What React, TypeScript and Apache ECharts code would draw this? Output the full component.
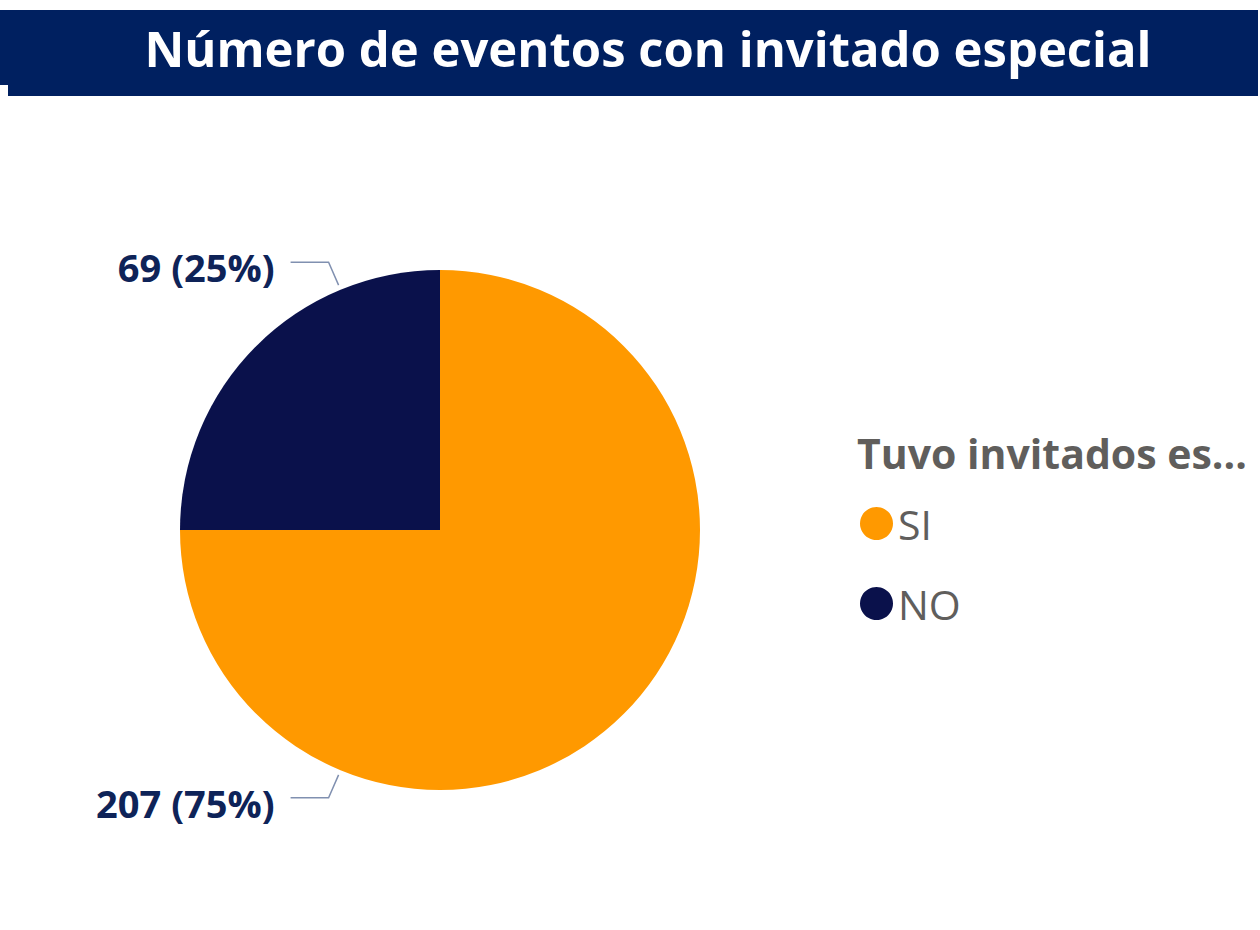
import React, { useEffect, useRef } from "react";
import * as echarts from "echarts";

const categories: string[] = ["SI", "NO"];
const values: number[] = [207, 69];
const sliceColors: string[] = ["#FF9900", "#0A114B"];

const chartTitle = "Número de eventos con invitado especial";
const legendTitle = "Tuvo invitados es...";

const CX = 440;
const CY = 530;
const R = 260;

export default function App() {
  const ref = useRef<HTMLDivElement | null>(null);
  useEffect(() => {
    if (!ref.current) return;
    const chart = echarts.init(ref.current, undefined, { renderer: "svg" });
    const font = "'Segoe UI', 'Open Sans', 'Noto Sans', sans-serif";
    chart.setOption({
      animation: false,
      backgroundColor: "#FFFFFF",
      graphic: [
        { type: "rect", shape: { x: 0, y: 10, width: 9, height: 75 }, style: { fill: "#002060" }, z: -1 },
        { type: "rect", shape: { x: 8, y: 10, width: 1250, height: 86 }, style: { fill: "#002060" }, z: -1 },
      ],
      title: [
        {
          text: chartTitle,
          left: 643,
          top: 18,
          textAlign: "center",
          textStyle: { color: "#FFFFFF", fontSize: 49, fontWeight: "bold", fontFamily: font },
        },
        {
          text: legendTitle,
          left: 852,
          top: 427,
          textStyle: { color: "#605E5C", fontSize: 41, fontWeight: "bold", fontFamily: font },
        },
      ],
      legend: {
        orient: "vertical",
        left: 855,
        top: 498,
        icon: "circle",
        itemWidth: 33,
        itemHeight: 33,
        itemGap: 39,
        data: categories,
        textStyle: { color: "#605E5C", fontSize: 41, fontFamily: font },
      },
      series: [
        {
          type: "pie",
          center: [CX, CY],
          radius: R,
          startAngle: 90,
          clockwise: true,
          percentPrecision: 0,
          data: categories.map((c, i) => ({ name: c, value: values[i], itemStyle: { color: sliceColors[i] } })),
          label: {
            show: true,
            formatter: "{c} ({d}%)",
            color: "#0E2358",
            fontSize: 38,
            fontWeight: "bold",
            fontFamily: font,
          },
          labelLine: { show: true, lineStyle: { color: "#8090B0", width: 1.5 } },
          labelLayout: (p: any) => {
            const sign = p.dataIndex === 0 ? 1 : -1;
            const ang = (22.5 * Math.PI) / 180;
            const ax = CX - (R + 5) * Math.sin(ang);
            const ay = CY + sign * (R + 5) * Math.cos(ang);
            const ex = ax - 10;
            const ey = ay + sign * 23;
            const tx = ex - 38;
            return {
              x: tx - 16,
              y: ey + 5,
              align: "right",
              verticalAlign: "middle",
              labelLinePoints: [
                [ax, ay],
                [ex, ey],
                [tx, ey],
              ],
            };
          },
          emphasis: { disabled: true },
        },
      ],
    });
    return () => chart.dispose();
  }, []);
  return <div ref={ref} style={{ position: "absolute", left: 0, top: 0, width: 1260, height: 930 }} />;
}
